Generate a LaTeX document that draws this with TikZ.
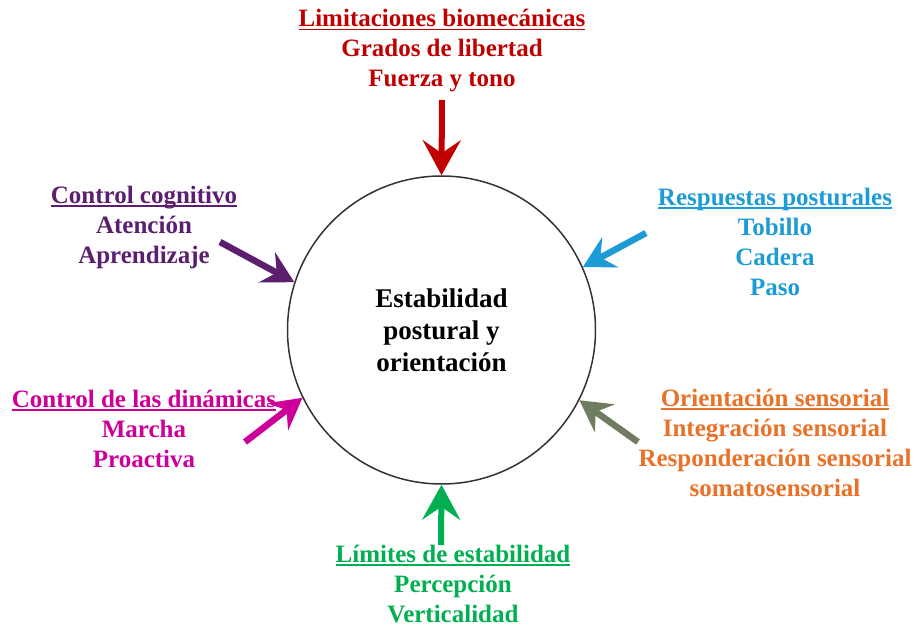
\documentclass[tikz,border=0pt]{standalone}
\usepackage{fontspec}
\setmainfont{Liberation Serif}
\usetikzlibrary{arrows.meta}
\definecolor{cRed}{RGB}{192,0,0}
\definecolor{cBlue}{RGB}{28,155,214}
\definecolor{cPurple}{RGB}{92,30,110}
\definecolor{cMag}{RGB}{204,0,153}
\definecolor{cOrange}{RGB}{232,114,40}
\definecolor{cGrayGreen}{RGB}{110,125,95}
\definecolor{cGreen}{RGB}{0,176,80}
\newcommand\myul[1]{\setbox0\hbox{#1}\rlap{\rule[-3.5pt]{\wd0}{1.6pt}}\box0}
\tikzset{
  lbl/.style={align=center, inner sep=0pt, font=\fontsize{25}{30}\selectfont\bfseries},
  bigarr/.style={line width=6pt, -{Stealth[length=35pt,width=38pt,inset=13pt]}},
  diagarr/.style={line width=6.5pt, -{Stealth[length=31pt,width=34pt,inset=11pt]}},
}
\begin{document}
\begin{tikzpicture}[x=1pt,y=-1pt]
\useasboundingbox (0,0) rectangle (914,628);
\node[circle, draw=black!80, line width=1.5pt, minimum size=308pt, inner sep=0pt,
  align=center, font=\fontsize{27}{32}\selectfont\bfseries] (circ) at (441.5,330)
  {Estabilidad\\postural y\\orientación};

\node[lbl, text=cRed] (lim) at (442,51) {\myul{Limitaciones biomecánicas}\\Grados de libertad\\Fuerza y tono};
\node[lbl, text=cBlue] (resp) at (775,242) {\myul{Respuestas posturales}\\Tobillo\\Cadera\\Paso};
\node[lbl, text=cPurple] (cog) at (144,227) {\myul{Control cognitivo}\\Atención\\Aprendizaje};
\node[lbl, text=cMag] (din) at (144,429) {\myul{Control de las dinámicas}\\Marcha\\Proactiva};
\node[lbl, text=cOrange] (ori) at (775,443) {\myul{Orientación sensorial}\\Integración sensorial\\Responderación sensorial\\somatosensorial};
\node[lbl, text=cGreen] (est) at (453,584) {\myul{Límites de estabilidad}\\Percepción\\Verticalidad};

\coordinate (tRed) at (442,100);
\coordinate (tBlue) at (646,233);
\coordinate (tPurple) at (220,242);
\coordinate (tMag) at (245,442);
\coordinate (tGray) at (638,442);
\coordinate (tGreen) at (441,545);

\draw[bigarr, cRed] (tRed) -- (circ.north);
\draw[bigarr, cGreen] (tGreen) -- (circ.south);
\draw[diagarr, cBlue] (tBlue) -- (circ.24.5);
\draw[diagarr, cPurple] (tPurple) -- (circ.162);
\draw[diagarr, cMag] (tMag) -- (circ.206.8);
\draw[diagarr, cGrayGreen] (tGray) -- (circ.333.2);
\end{tikzpicture}
\end{document}
